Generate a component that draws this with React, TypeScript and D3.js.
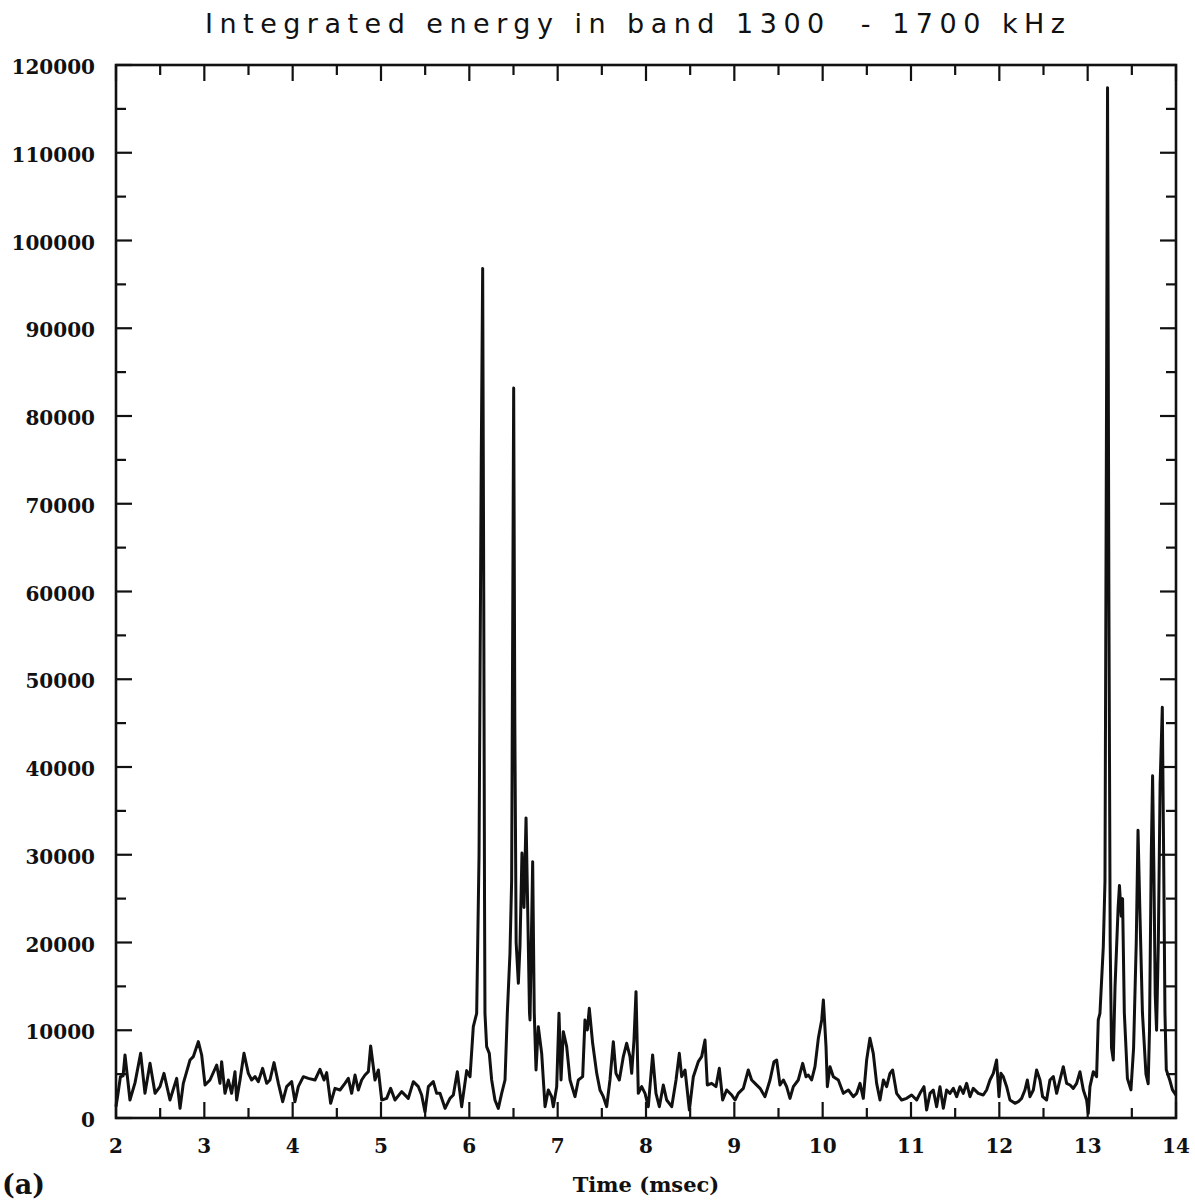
import React from 'react';
import * as d3 from 'd3';

// Integrated energy in the 1300–1700 kHz band versus time (msec)
const timeDomain: [number, number] = [2, 14];
const energyDomain: [number, number] = [0, 120000];
const xTickValues = [2, 3, 4, 5, 6, 7, 8, 9, 10, 11, 12, 13, 14];
const yTickValues = [0, 10000, 20000, 30000, 40000, 50000, 60000, 70000, 80000, 90000, 100000, 110000, 120000];

const titleText = 'Integrated energy in band 1300  - 1700 kHz';
const xAxisTitle = 'Time (msec)';
const panelLabel = '(a)';

// [time (msec), energy] samples
const trace2to6: [number, number][] = [
  [2.0, 1300], [2.02, 2600], [2.05, 4700], [2.08, 4800], [2.102, 7180], [2.158, 2050], [2.215, 4000],
  [2.279, 7370], [2.328, 2810], [2.385, 6230], [2.442, 2810], [2.498, 3570], [2.543, 5090], [2.611, 2050],
  [2.687, 4520], [2.725, 1100], [2.762, 3950], [2.838, 6610], [2.875, 6990], [2.932, 8700], [2.97, 7180],
  [3.008, 3760], [3.064, 4330], [3.14, 6040], [3.177, 3950], [3.196, 6420], [3.234, 2810], [3.272, 4330],
  [3.309, 2810], [3.347, 5280], [3.366, 2050], [3.404, 4330], [3.449, 7370], [3.498, 5090], [3.536, 4330],
  [3.574, 4710], [3.611, 4140], [3.66, 5660], [3.706, 3950], [3.743, 4330], [3.789, 6310], [3.838, 3950],
  [3.887, 1860], [3.932, 3570], [3.989, 4140], [4.026, 1860], [4.064, 3570], [4.121, 4710], [4.177, 4520],
  [4.253, 4330], [4.309, 5550], [4.355, 4330], [4.385, 5170], [4.43, 1670], [4.479, 3380], [4.536, 3190],
  [4.592, 3950], [4.63, 4520], [4.668, 2810], [4.706, 4900], [4.743, 3190], [4.781, 4330], [4.819, 4900],
  [4.857, 5280], [4.883, 8210], [4.932, 4330], [4.97, 5470], [5.008, 2050], [5.064, 2240], [5.109, 3380],
  [5.158, 2050], [5.234, 3000], [5.309, 2240], [5.366, 4140], [5.423, 3570], [5.46, 2620], [5.498, 700],
  [5.536, 3570], [5.592, 4140], [5.63, 2810], [5.668, 2810], [5.725, 1100], [5.781, 2240], [5.819, 2620],
  [5.864, 5280], [5.913, 1290], [5.97, 5400], [6.008, 4710], [6.045, 10410], [6.083, 11930],
];

const peaks6to7: [number, number][] = [
  [6.11, 30000], [6.135, 75000], [6.151, 96800], [6.163, 60000], [6.172, 25000], [6.177, 11930],
  [6.196, 8130], [6.226, 7370], [6.253, 4330], [6.29, 2050], [6.328, 1100], [6.366, 2810], [6.404, 4330],
  [6.43, 11930], [6.46, 18770], [6.479, 27100], [6.502, 83200], [6.515, 45000], [6.53, 20000],
  [6.555, 15350], [6.573, 19530], [6.596, 30200], [6.619, 24000], [6.642, 34200], [6.664, 22000],
  [6.681, 12000], [6.687, 11170], [6.717, 29200], [6.735, 12000], [6.755, 5470], [6.781, 10410],
  [6.819, 7370], [6.838, 4330], [6.857, 1290], [6.894, 3190], [6.932, 2430], [6.951, 1290], [6.989, 3570],
];

const trace7to10: [number, number][] = [
  [7.015, 11930], [7.038, 4330], [7.064, 9840], [7.102, 8130], [7.14, 4330], [7.196, 2430], [7.234, 4330],
  [7.283, 4710], [7.309, 11170], [7.336, 10030], [7.358, 12500], [7.396, 8510], [7.442, 5090], [7.479, 3190],
  [7.517, 2430], [7.555, 1290], [7.592, 4330], [7.63, 8700], [7.66, 5090], [7.698, 4330], [7.743, 6990],
  [7.781, 8510], [7.819, 6990], [7.838, 5090], [7.864, 8890], [7.887, 14400], [7.913, 2810], [7.951, 3570],
  [7.989, 2810], [8.026, 1290], [8.075, 7180], [8.113, 2810], [8.151, 1290], [8.196, 3760], [8.234, 2050],
  [8.291, 1290], [8.34, 4330], [8.377, 7370], [8.404, 4710], [8.442, 5470], [8.491, 910], [8.536, 4710],
  [8.592, 6420], [8.63, 6990], [8.668, 8890], [8.694, 3760], [8.743, 3950], [8.792, 3570], [8.83, 5660],
  [8.868, 2050], [8.913, 3190], [8.97, 2620], [9.008, 2050], [9.045, 2810], [9.102, 3380], [9.158, 5470],
  [9.196, 4330], [9.234, 3950], [9.291, 3380], [9.347, 2430], [9.404, 4330], [9.449, 6420], [9.479, 6610],
  [9.517, 3760], [9.555, 4330], [9.592, 3570], [9.63, 2240], [9.668, 3570], [9.724, 4330], [9.774, 6230],
  [9.811, 4710], [9.838, 4900], [9.875, 4330], [9.913, 5850], [9.951, 9080], [9.989, 11170], [10.008, 13450],
  [10.038, 8130], [10.053, 3570], [10.083, 5850], [10.121, 4710], [10.177, 4330], [10.234, 2810], [10.291, 3190],
];

const trace10to13: [number, number][] = [
  [10.347, 2430], [10.385, 2810], [10.423, 3950], [10.46, 2240], [10.498, 6610], [10.535, 9080],
  [10.573, 7370], [10.611, 3950], [10.649, 2050], [10.687, 4330], [10.724, 3570], [10.762, 5090],
  [10.792, 5470], [10.837, 2810], [10.894, 2050], [10.951, 2240], [11.007, 2620], [11.064, 2050],
  [11.102, 2810], [11.147, 3570], [11.177, 910], [11.215, 2810], [11.252, 3190], [11.29, 1290],
  [11.328, 3570], [11.366, 1100], [11.403, 3190], [11.441, 2810], [11.479, 3380], [11.517, 2430],
  [11.554, 3570], [11.592, 2810], [11.63, 3950], [11.668, 2430], [11.705, 3380], [11.762, 2810],
  [11.818, 2620], [11.856, 3190], [11.894, 4330], [11.932, 5090], [11.969, 6610], [11.996, 2430],
  [12.018, 5090], [12.045, 4710], [12.083, 3570], [12.12, 2050], [12.177, 1670], [12.215, 1860],
  [12.252, 2240], [12.29, 3190], [12.317, 4330], [12.347, 2430], [12.385, 3190], [12.422, 5470],
  [12.46, 4330], [12.49, 2430], [12.535, 2050], [12.573, 4330], [12.611, 4710], [12.649, 2810],
  [12.686, 4330], [12.724, 5850], [12.762, 3950], [12.8, 3760], [12.837, 3380], [12.875, 3950],
  [12.913, 5280], [12.951, 3190], [12.988, 2050], [13.007, 530], [13.026, 3570], [13.064, 5280],
  [13.101, 4710],
];

const burst13to14: [number, number][] = [
  [13.12, 11170], [13.139, 11930], [13.177, 19530], [13.196, 27000], [13.225, 117400], [13.24, 60000],
  [13.255, 20000], [13.27, 8000], [13.29, 6600], [13.31, 15000], [13.345, 24000], [13.36, 26500],
  [13.38, 23000], [13.395, 25000], [13.415, 12000], [13.45, 4500], [13.49, 3200], [13.52, 8000],
  [13.55, 20000], [13.57, 32800], [13.59, 24000], [13.62, 12000], [13.66, 5000], [13.685, 3900],
  [13.7, 10000], [13.72, 30000], [13.735, 39000], [13.75, 28000], [13.765, 14000], [13.78, 10000],
  [13.8, 20000], [13.82, 38000], [13.845, 46800], [13.86, 30000], [13.875, 12000], [13.89, 5500],
  [13.93, 4300], [13.96, 3200], [14.0, 2600],
];

const W = 1195;
const H = 1200;
const plot = { left: 116, right: 1176, top: 65, bottom: 1118 };
const serif = '"DejaVu Serif", serif';

export default function App() {
  const x = d3.scaleLinear().domain(timeDomain).range([plot.left, plot.right]);
  const y = d3.scaleLinear().domain(energyDomain).range([plot.bottom, plot.top]);

  const series = [...trace2to6, ...peaks6to7, ...trace7to10, ...trace10to13, ...burst13to14];
  const line = d3
    .line<[number, number]>()
    .x((d) => x(d[0]))
    .y((d) => y(d[1]));

  const xMinor = d3.range(2.5, 14, 1);
  const yMinor = d3.range(5000, 120000, 10000);
  const majorLen = 16;
  const minorLen = 10;
  const ink = '#111';

  return (
    <svg
      width={W}
      height={H}
      viewBox={`0 0 ${W} ${H}`}
      style={{ position: 'absolute', left: 0, top: 0, background: '#fff' }}
    >
      <rect x={0} y={0} width={W} height={H} fill="#fff" />
      <text
        x={205}
        y={33}
        fontFamily='"DejaVu Sans", sans-serif'
        fontSize={27}
        textLength={860}
        lengthAdjust="spacing"
        fill={ink}
        style={{ whiteSpace: 'pre' }}
      >
        {titleText}
      </text>

      <g stroke={ink} strokeWidth={2.2}>
        {xTickValues.map((t) => (
          <g key={`xt${t}`}>
            <line x1={x(t)} x2={x(t)} y1={plot.bottom} y2={plot.bottom - majorLen} />
            <line x1={x(t)} x2={x(t)} y1={plot.top} y2={plot.top + majorLen} />
          </g>
        ))}
        {xMinor.map((t) => (
          <g key={`xm${t}`}>
            <line x1={x(t)} x2={x(t)} y1={plot.bottom} y2={plot.bottom - minorLen} />
            <line x1={x(t)} x2={x(t)} y1={plot.top} y2={plot.top + minorLen} />
          </g>
        ))}
        {yTickValues.map((v) => (
          <g key={`yt${v}`}>
            <line x1={plot.left} x2={plot.left + majorLen} y1={y(v)} y2={y(v)} />
            <line x1={plot.right} x2={plot.right - majorLen} y1={y(v)} y2={y(v)} />
          </g>
        ))}
        {yMinor.map((v) => (
          <g key={`ym${v}`}>
            <line x1={plot.left} x2={plot.left + minorLen} y1={y(v)} y2={y(v)} />
            <line x1={plot.right} x2={plot.right - minorLen} y1={y(v)} y2={y(v)} />
          </g>
        ))}
      </g>

      <path d={line(series) ?? ''} fill="none" stroke={ink} strokeWidth={3} strokeLinejoin="round" />

      <rect
        x={plot.left}
        y={plot.top}
        width={plot.right - plot.left}
        height={plot.bottom - plot.top}
        fill="none"
        stroke={ink}
        strokeWidth={2.6}
      />

      <g fontFamily={serif} fontWeight="bold" fontSize={20} fill={ink}>
        {yTickValues.map((v) => (
          <text key={`yl${v}`} x={95} y={y(v) + 9} textAnchor="end">
            {v}
          </text>
        ))}
        {xTickValues.map((t) => (
          <text key={`xl${t}`} x={x(t)} y={1153} textAnchor="middle">
            {t}
          </text>
        ))}
        <text x={646} y={1192} textAnchor="middle" fontSize={21}>
          {xAxisTitle}
        </text>
      </g>
      <text x={2} y={1194} fontFamily={serif} fontWeight="bold" fontSize={27} fill={ink}>
        {panelLabel}
      </text>
    </svg>
  );
}
